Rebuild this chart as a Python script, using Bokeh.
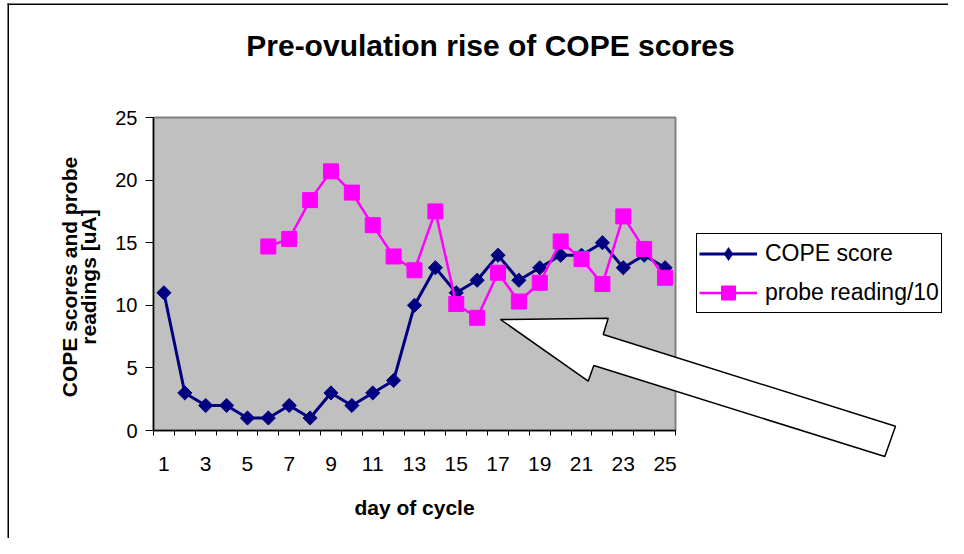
import numpy as np
from bokeh.plotting import figure
from bokeh.models import (Range1d, FixedTicker, Legend, LegendItem, PolyAnnotation,
                          BoxAnnotation, Label)
from bokeh.embed import file_html
from bokeh.resources import INLINE

# ---- data ----
days = list(range(1, 26))
cope_score = [11, 3, 2, 2, 1, 1, 2, 1, 3, 2, 3, 4, 10, 13, 11, 12, 14, 12, 13, 14, 14, 15, 13, 14, 13]
probe_days = list(range(6, 26))
probe_reading_10 = [14.7, 15.3, 18.4, 20.7, 19.0, 16.4, 13.9, 12.8, 17.5, 10.1,
                    9.0, 12.6, 10.3, 11.8, 15.1, 13.7, 11.7, 17.1, 14.5, 12.2]
x_tick_days = days[::2]
y_ticks = [0, 5, 10, 15, 20, 25]

title_text = "Pre-ovulation rise of COPE scores"
x_label = "day of cycle"
y_label_lines = ["COPE scores and probe", "readings [uA]"]
legend_labels = ["COPE score", "probe reading/10"]

FONT = "Liberation Sans"
W, H = 948, 538
# plot-area placement inside the canvas (px)
PL, PR, PT, PB = 153, 675, 117, 430

x0, x1 = days[0] - 0.5, days[-1] + 0.5
y0, y1 = y_ticks[0], y_ticks[-1]
px_x = (PR - PL) / (x1 - x0)
px_y = (PB - PT) / (y1 - y0)

p = figure(width=W, height=H, output_backend="svg", toolbar_location=None, title=None,
           x_range=Range1d(x0 - PL / px_x, x1 + (W - PR) / px_x),
           y_range=Range1d(y0 - (H - PB) / px_y, y1 + PT / px_y),
           min_border_left=0, min_border_right=0,
           min_border_top=0, min_border_bottom=0)

p.background_fill_color = "white"
p.border_fill_color = "white"
p.outline_line_color = None

# grey plot area
p.add_layout(BoxAnnotation(left=x0, right=x1, bottom=y0, top=y1,
                           fill_color="#C0C0C0", fill_alpha=1,
                           line_color="#808080", line_alpha=1, line_width=2,
                           level="underlay"))

# title
p.add_layout(Label(x=490, y=45, x_units="canvas", y_units="canvas", text=title_text,
                   text_align="center", text_baseline="alphabetic",
                   text_font=FONT, text_font_size="30px", text_font_style="bold",
                   text_color="black"))

# y-axis title (two lines, rotated)
for i, line in enumerate(y_label_lines):
    p.add_layout(Label(x=69 + 19 * i, y=(PT + PB) / 2 + 3, x_units="canvas", y_units="canvas",
                       text=line, angle=np.pi / 2, text_align="center",
                       text_baseline="middle", text_font=FONT, text_font_size="21px",
                       text_font_style="bold", text_color="black"))

# grid
p.xgrid.grid_line_color = None
p.ygrid.grid_line_color = "black"
p.ygrid.grid_line_width = 1
p.ygrid.ticker = FixedTicker(ticks=y_ticks[1:-1])
p.ygrid.cross_bounds = (x0, x1)

# x axis
xa = p.xaxis[0]
xa.fixed_location = y0
xa.bounds = (x0, x1)
xa.ticker = FixedTicker(ticks=x_tick_days,
                        minor_ticks=[d - 0.5 for d in days] + [days[-1] + 0.5])
xa.major_tick_line_color = None
xa.major_tick_out = 0
xa.major_tick_in = 0
xa.minor_tick_line_color = "black"
xa.minor_tick_out = 5
xa.minor_tick_in = 0
xa.axis_line_color = "black"
xa.axis_line_width = 1.5
xa.major_label_text_font = FONT
xa.major_label_text_font_size = "21px"
xa.major_label_text_color = "black"
xa.major_label_standoff = 21
xa.axis_label = x_label
xa.axis_label_text_font = FONT
xa.axis_label_text_font_size = "21px"
xa.axis_label_text_font_style = "bold"
xa.axis_label_text_color = "black"
xa.axis_label_standoff = 22

# y axis
ya = p.yaxis[0]
ya.fixed_location = x0
ya.bounds = (y0, y1)
ya.ticker = FixedTicker(ticks=y_ticks)
ya.minor_tick_line_color = None
ya.major_tick_line_color = "black"
ya.major_tick_out = 8
ya.major_tick_in = 0
ya.axis_line_color = "black"
ya.axis_line_width = 1.5
ya.major_label_text_font = FONT
ya.major_label_text_font_size = "20px"
ya.major_label_text_color = "black"
ya.major_label_standoff = 8

# series
NAVY = "#000080"
MAGENTA = "#FF00FF"
l1 = p.line(days, cope_score, line_color=NAVY, line_width=3)
s1 = p.scatter(days, cope_score, marker="square", angle=np.pi / 4, size=10,
               fill_color=NAVY, line_color=NAVY)
l2 = p.line(probe_days, probe_reading_10, line_color=MAGENTA, line_width=2.5)
s2 = p.scatter(probe_days, probe_reading_10, marker="square", size=15,
               fill_color=MAGENTA, line_color=MAGENTA)
# diamond key for the legend (zero size in the plot itself)
key1 = p.scatter(days, cope_score, marker="diamond", size=0,
                 fill_color=NAVY, line_color=None)

legend = Legend(items=[LegendItem(label=legend_labels[0], renderers=[l1, key1]),
                       LegendItem(label=legend_labels[1], renderers=[l2, s2])],
                location=(696, H - 313), margin=0, padding=2, spacing=4,
                label_height=35, glyph_height=35, glyph_width=58, label_standoff=8,
                label_text_font=FONT, label_text_font_size="23px", label_text_color="black",
                border_line_color="black", border_line_width=1, border_line_alpha=1,
                background_fill_color="white", background_fill_alpha=1)
p.add_layout(legend)

# block arrow (annotation, canvas px)
arrow = PolyAnnotation(xs=[500, 607.7, 602.7, 895, 884.3, 593.3, 587.7],
                       ys=[319, 317.7, 334, 425.7, 456, 365, 380.7],
                       xs_units="canvas", ys_units="canvas",
                       fill_color="white", fill_alpha=1,
                       line_color="black", line_alpha=1, line_width=1.5)
p.add_layout(arrow)

# outer chart border (top and left edges)
p.add_layout(PolyAnnotation(xs=[7, W, W, 7], ys=[3, 3, 4.5, 4.5],
                            xs_units="canvas", ys_units="canvas",
                            fill_color="black", fill_alpha=1, line_color=None))
p.add_layout(PolyAnnotation(xs=[7, 8.5, 8.5, 7], ys=[3, 3, H, H],
                            xs_units="canvas", ys_units="canvas",
                            fill_color="black", fill_alpha=1, line_color=None))

open("out.html", "w").write(file_html(p, INLINE))
